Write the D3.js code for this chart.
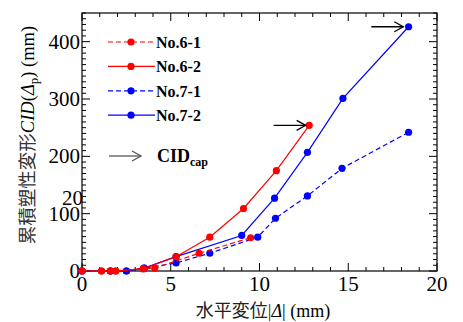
<!DOCTYPE html>
<html>
<head>
<meta charset="utf-8">
<script src="https://cdn.jsdelivr.net/npm/d3@7"></script>
<style>
  body { margin: 0; background: #fff; }
  svg { display: block; font-family: "Liberation Serif", "Noto Sans CJK JP", serif; }
</style>
</head>
<body>
<svg id="chart" width="463" height="322"></svg>
<script>
/* ---- data ---- */
const seriesNames = ["No.6-1", "No.6-2", "No.7-1", "No.7-2"];
const no61 = [[0,0],[1.1,0],[1.6,0],[1.9,0],[3.45,4],[4.1,5],[6.6,31],[9.5,58]];
const no62 = [[0,0],[1.1,0],[1.6,0],[1.9,0],[3.45,4],[5.3,25],[7.2,59],[9.1,109],[10.95,175],[12.8,254]];
const no71 = [[0,0],[1.6,0],[2.5,0],[3.5,5],[5.3,14],[7.2,31],[9.9,59],[10.9,92],[12.7,131],[14.65,179],[18.4,242]];
const no72 = [[0,0],[1.6,0],[2.5,0],[3.5,5],[5.3,25],[9.0,62],[10.85,127],[12.7,207],[14.7,301],[18.4,426]];
const xTicks = [0, 5, 10, 15, 20];
const yTicks = [0, 100, 200, 300, 400];
// CID cap arrows: [x, y] of the tip
const capArrows = [[12.6, 254], [18.1, 426]];

const svg = d3.select("#chart");
const mLeft = 82, mRight = 437, mTop = 13, mBottom = 271;

const x = d3.scaleLinear().domain([0, 20]).range([mLeft, mRight]);
const y = d3.scaleLinear().domain([0, 450]).range([mBottom, mTop]);

// frame
svg.append("rect")
  .attr("x", mLeft).attr("y", mTop)
  .attr("width", mRight - mLeft).attr("height", mBottom - mTop)
  .attr("fill", "none").attr("stroke", "#000").attr("stroke-width", 1.2);

// ticks inward on all four sides
const tickG = svg.append("g").attr("stroke", "#000").attr("stroke-width", 1);
d3.range(0, 20.01, 1).forEach(v => {
  const len = v % 5 === 0 ? 8 : 4;
  tickG.append("line").attr("x1", x(v)).attr("x2", x(v)).attr("y1", mBottom).attr("y2", mBottom - len);
  tickG.append("line").attr("x1", x(v)).attr("x2", x(v)).attr("y1", mTop).attr("y2", mTop + len);
});
d3.range(0, 450.01, 10).forEach(v => {
  const len = v % 100 === 0 ? 8 : 4;
  tickG.append("line").attr("y1", y(v)).attr("y2", y(v)).attr("x1", mLeft).attr("x2", mLeft + len);
  tickG.append("line").attr("y1", y(v)).attr("y2", y(v)).attr("x1", mRight).attr("x2", mRight - len);
});

// tick labels
svg.append("g").selectAll("text").data(xTicks).join("text")
  .attr("x", d => x(d)).attr("y", 291)
  .attr("text-anchor", "middle").attr("font-size", 21)
  .text(d => d);
svg.append("g").selectAll("text").data(yTicks).join("text")
  .attr("x", mLeft - 2).attr("y", d => y(d) + 7)
  .attr("text-anchor", "end").attr("font-size", 21)
  .text(d => d);
// stray label in the original
svg.append("text").attr("x", 83).attr("y", 205)
  .attr("text-anchor", "end").attr("font-size", 21).text("20");

// axis titles
const xt = svg.append("text").attr("x", 263).attr("y", 317)
  .attr("text-anchor", "middle").attr("font-size", 18);
xt.append("tspan").attr("fill", "#222").text("水平変位|");
xt.append("tspan").attr("font-style", "italic").text("Δ");
xt.append("tspan").text("| (mm)");

const yt = svg.append("text")
  .attr("transform", "translate(34,135) rotate(-90)")
  .attr("text-anchor", "middle").attr("font-size", 18.5);
yt.append("tspan").attr("fill", "#333").text("累積塑性変形");
yt.append("tspan").attr("font-style", "italic").text("CID");
yt.append("tspan").text("(");
yt.append("tspan").attr("font-style", "italic").text("Δ");
yt.append("tspan").attr("font-size", 13).attr("dy", 4).text("p");
yt.append("tspan").attr("dy", -4).text(") (mm)");

// series
const series = [
  { name: seriesNames[2], data: no71, color: "#0000ff", dash: "5,3" },
  { name: seriesNames[3], data: no72, color: "#0000ff", dash: null },
  { name: seriesNames[0], data: no61, color: "#ff0000", dash: "5,3" },
  { name: seriesNames[1], data: no62, color: "#ff0000", dash: null }
];
const line = d3.line().x(d => x(d[0])).y(d => y(d[1]));
series.forEach(s => {
  const g = svg.append("g");
  g.append("path").attr("d", line(s.data))
    .attr("fill", "none").attr("stroke", s.color).attr("stroke-width", 1.2)
    .attr("stroke-dasharray", s.dash);
  g.selectAll("circle").data(s.data).join("circle")
    .attr("cx", d => x(d[0])).attr("cy", d => y(d[1])).attr("r", 3.6)
    .attr("fill", s.color);
});

// arrows
function arrow(g, x1, x2, yy, color) {
  g.append("line").attr("x1", x1).attr("x2", x2).attr("y1", yy).attr("y2", yy)
    .attr("stroke", color).attr("stroke-width", 1.3);
  g.append("path").attr("d", `M${x2 - 9},${yy - 5} L${x2},${yy} L${x2 - 9},${yy + 5}`)
    .attr("fill", "none").attr("stroke", color).attr("stroke-width", 1.3);
}
capArrows.forEach(a => {
  const tipX = x(a[0]);
  arrow(svg, tipX - 32, tipX, y(a[1]), "#000");
});

// legend
const legendOrder = [
  { name: seriesNames[0], color: "#ff0000", dash: "5,3" },
  { name: seriesNames[1], color: "#ff0000", dash: null },
  { name: seriesNames[2], color: "#0000ff", dash: "5,3" },
  { name: seriesNames[3], color: "#0000ff", dash: null }
];
legendOrder.forEach((s, i) => {
  const ly = 42 + i * 24.4;
  svg.append("line").attr("x1", 108).attr("x2", 155).attr("y1", ly).attr("y2", ly)
    .attr("stroke", s.color).attr("stroke-width", 1.2).attr("stroke-dasharray", s.dash);
  svg.append("circle").attr("cx", 131).attr("cy", ly).attr("r", 3.6).attr("fill", s.color);
  svg.append("text").attr("x", 156).attr("y", ly + 6)
    .attr("font-size", 16).attr("font-weight", "bold").text(s.name);
});
arrow(svg, 109, 141, 156, "#555");
const ct = svg.append("text").attr("x", 157).attr("y", 162)
  .attr("font-size", 18).attr("font-weight", "bold");
ct.append("tspan").text("CID");
ct.append("tspan").attr("font-size", 12).attr("dy", 4).text("cap");
</script>
</body>
</html>
